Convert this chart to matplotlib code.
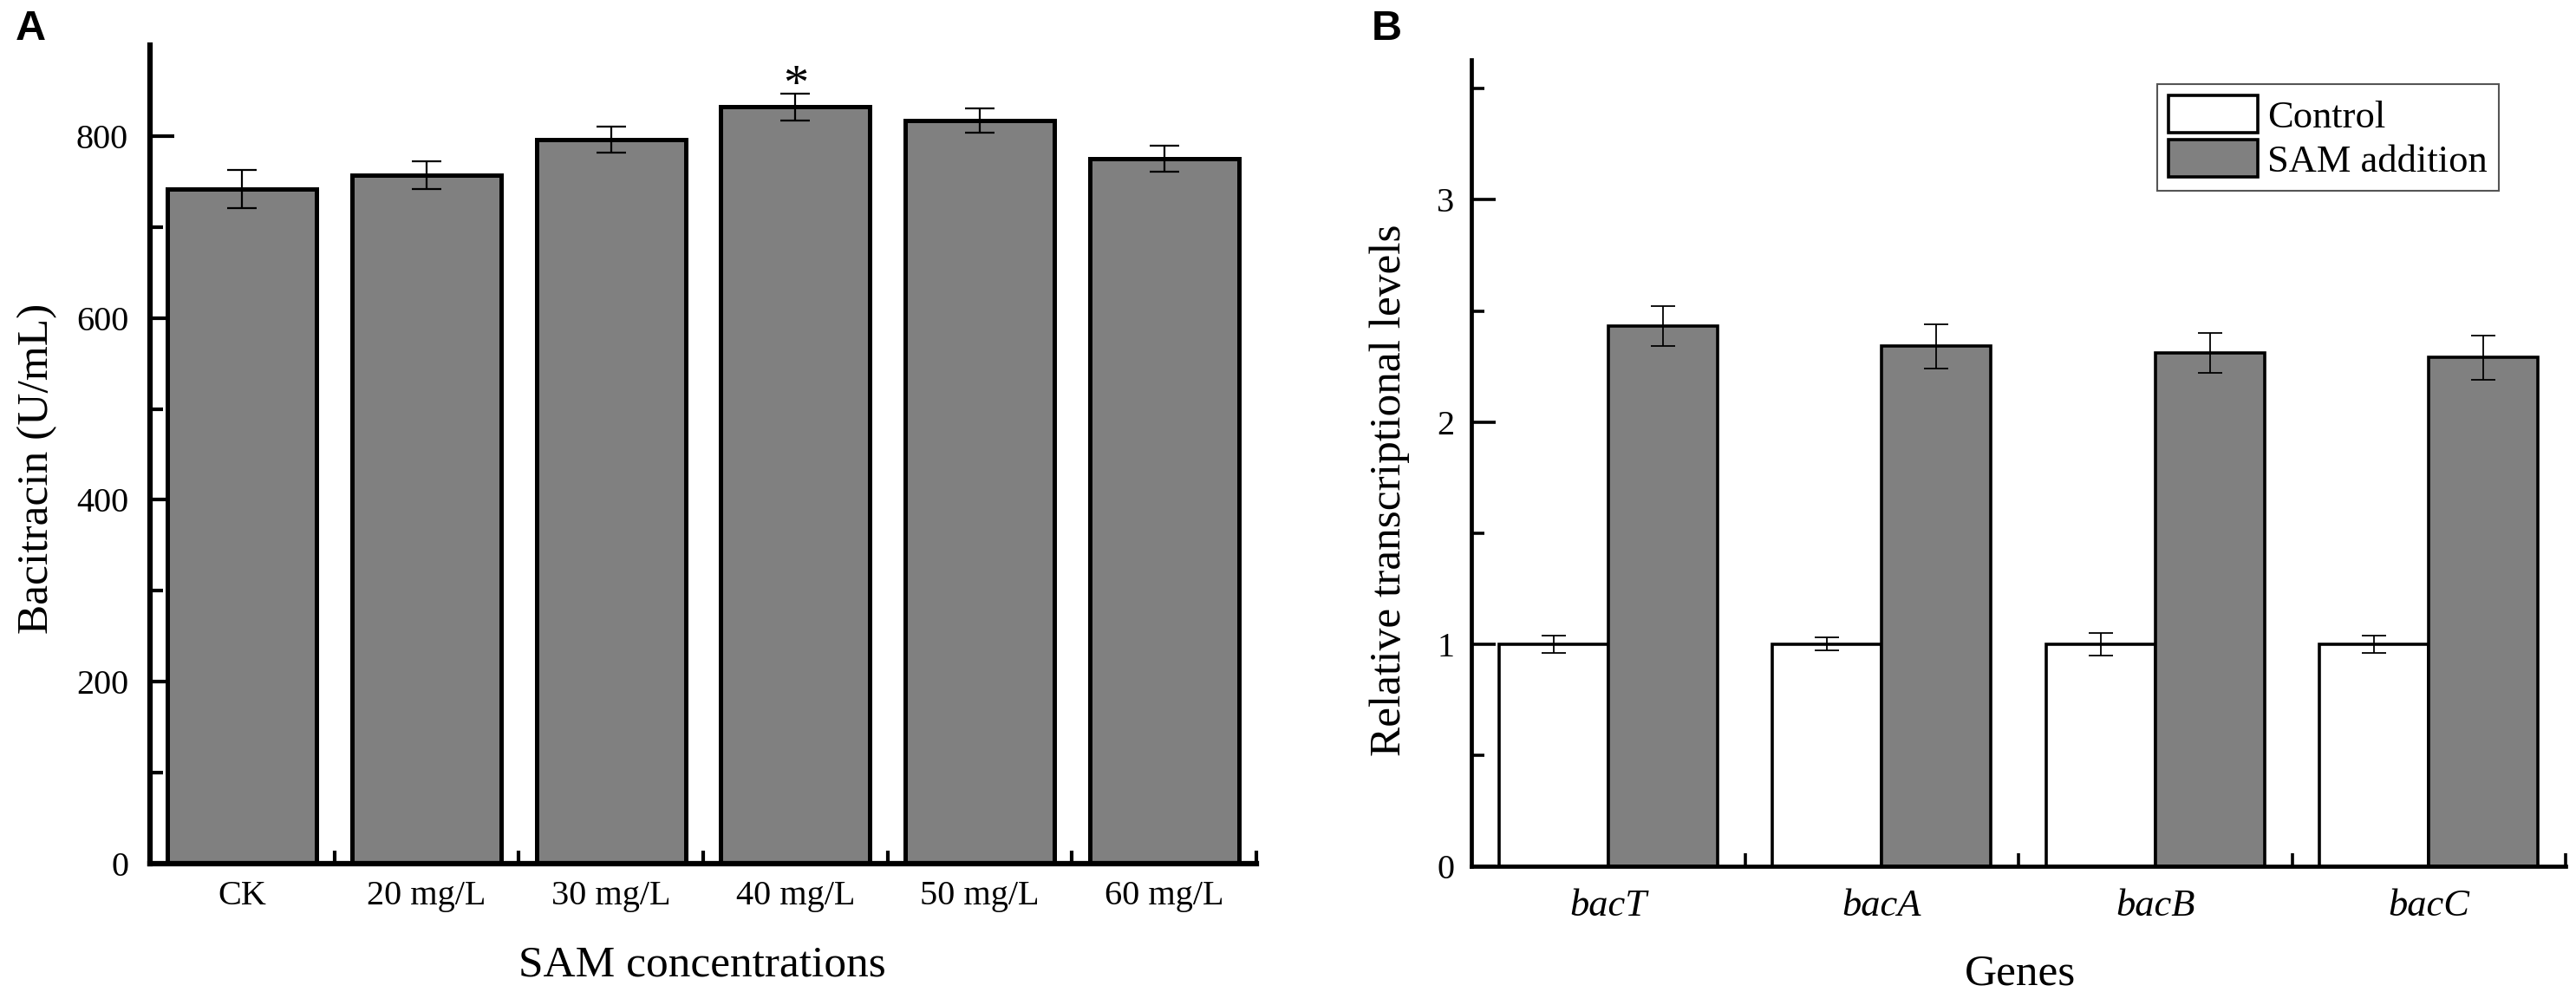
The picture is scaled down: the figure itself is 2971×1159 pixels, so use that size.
import matplotlib
matplotlib.use("Agg")
import matplotlib.pyplot as plt
import numpy as np

# ---------------- data ----------------
concentrations = ["CK", "20 mg/L", "30 mg/L", "40 mg/L", "50 mg/L", "60 mg/L"]
bacitracin = [742, 757, 796, 832, 817, 775]
bacitracin_err = [21, 15, 14, 15, 13, 14]
significant = [False, False, False, True, False, False]

genes = ["bacT", "bacA", "bacB", "bacC"]
control = [1.0, 1.0, 1.0, 1.0]
control_err = [0.04, 0.03, 0.05, 0.04]
sam_addition = [2.43, 2.34, 2.31, 2.29]
sam_err = [0.09, 0.10, 0.09, 0.10]

series_names = ["Control", "SAM addition"]

# ---------------- style ----------------
W, H = 2971, 1159
SERIF = ["Liberation Serif", "DejaVu Serif"]
plt.rcParams["font.family"] = SERIF
GRAY = "#808080"

fig = plt.figure(figsize=(W / 100, H / 100), dpi=100)


def axes_rect(left, right, top, bottom):
    return [left / W, 1 - bottom / H, (right - left) / W, (bottom - top) / H]


# ---------------- panel A ----------------
axA = fig.add_axes(axes_rect(173, 1449, 52, 996))
xA = np.arange(len(concentrations))
axA.bar(xA, bacitracin, width=0.81, color=GRAY, edgecolor="black",
        linewidth=3.6, zorder=2)
axA.errorbar(xA, bacitracin, yerr=bacitracin_err, fmt="none", ecolor="black",
             elinewidth=1.6, capsize=12, capthick=1.6, zorder=3)
for xi, v, e, s in zip(xA, bacitracin, bacitracin_err, significant):
    if s:
        axA.text(xi, v + e - 6, "*", ha="center", va="baseline",
                 fontsize=42, family=SERIF, zorder=4)
axA.set_xlim(-0.5, len(concentrations) - 0.5)
axA.set_ylim(0, 900)
axA.set_xticks(xA)
axA.set_xticklabels(concentrations)
axA.set_xticks(np.arange(len(concentrations)) + 0.5, minor=True)
axA.set_yticks([0, 200, 400, 600, 800])
axA.set_yticks([100, 300, 500, 700], minor=True)
for sp in ["top", "right"]:
    axA.spines[sp].set_visible(False)
for sp in ["left", "bottom"]:
    axA.spines[sp].set_linewidth(4.5)
axA.tick_params(axis="both", which="major", direction="in", length=20,
                width=3, labelsize=29)
axA.tick_params(axis="both", which="minor", direction="in", length=11,
                width=3)
axA.tick_params(axis="x", which="major", pad=14)
axA.tick_params(axis="y", which="major", pad=18)

fig.text(43 / W, 1 - 540 / H, "Bacitracin (U/mL)", rotation=90,
         ha="center", va="center", fontsize=37)
fig.text(810 / W, 1 - 1113 / H, "SAM concentrations", ha="center",
         va="center", fontsize=37)

# ---------------- panel B ----------------
axB = fig.add_axes(axes_rect(1697, 2959, 69, 999))
xB = np.arange(len(genes))
bw = 0.4
axB.bar(xB - bw / 2, control, width=bw, color="white", edgecolor="black",
        linewidth=2.6, zorder=2, label=series_names[0])
axB.bar(xB + bw / 2, sam_addition, width=bw, color=GRAY, edgecolor="black",
        linewidth=2.6, zorder=2, label=series_names[1])
axB.errorbar(xB - bw / 2, control, yerr=control_err, fmt="none",
             ecolor="black", elinewidth=1.3, capsize=10, capthick=1.3, zorder=3)
axB.errorbar(xB + bw / 2, sam_addition, yerr=sam_err, fmt="none",
             ecolor="black", elinewidth=1.3, capsize=10, capthick=1.3, zorder=3)
axB.set_xlim(-0.5, len(genes) - 0.5)
axB.set_ylim(0, 3.63)
axB.set_xticks(xB)
axB.set_xticklabels(genes, fontstyle="italic")
axB.set_xticks(np.arange(len(genes)) + 0.5, minor=True)
axB.set_yticks([0, 1, 2, 3])
axB.set_yticks([0.5, 1.5, 2.5, 3.5], minor=True)
for sp in ["top", "right"]:
    axB.spines[sp].set_visible(False)
for sp in ["left", "bottom"]:
    axB.spines[sp].set_linewidth(3.4)
axB.tick_params(axis="both", which="major", direction="in", length=20,
                width=2.6, labelsize=29)
axB.tick_params(axis="x", which="major", labelsize=32, pad=19)
axB.tick_params(axis="both", which="minor", direction="in", length=11,
                width=2.6)
axB.tick_params(axis="y", which="major", pad=14)

leg = axB.legend(loc="upper left", bbox_to_anchor=(2488 / W, 1 - 97 / H),
                 bbox_transform=fig.transFigure, fontsize=32, frameon=True,
                 fancybox=False, edgecolor="#555555", framealpha=1,
                 handlelength=2.3, handleheight=1.1, handletextpad=0.25,
                 labelspacing=0.12, borderpad=0.3, borderaxespad=0)
leg.get_frame().set_linewidth(1.5)

fig.text(1603 / W, 1 - 565 / H, "Relative transcriptional levels",
         rotation=90, ha="center", va="center", fontsize=37)
fig.text(2330 / W, 1 - 1123 / H, "Genes", ha="center", va="center",
         fontsize=37)

# ---------------- panel letters ----------------
fig.text(18 / W, 1 - 46 / H, "A", ha="left", va="baseline", fontsize=35,
         fontweight="bold", family=["Liberation Sans", "DejaVu Sans"])
fig.text(1582 / W, 1 - 46 / H, "B", ha="left", va="baseline", fontsize=35,
         fontweight="bold", family=["Liberation Sans", "DejaVu Sans"])

fig.savefig("out.png", dpi=100)
